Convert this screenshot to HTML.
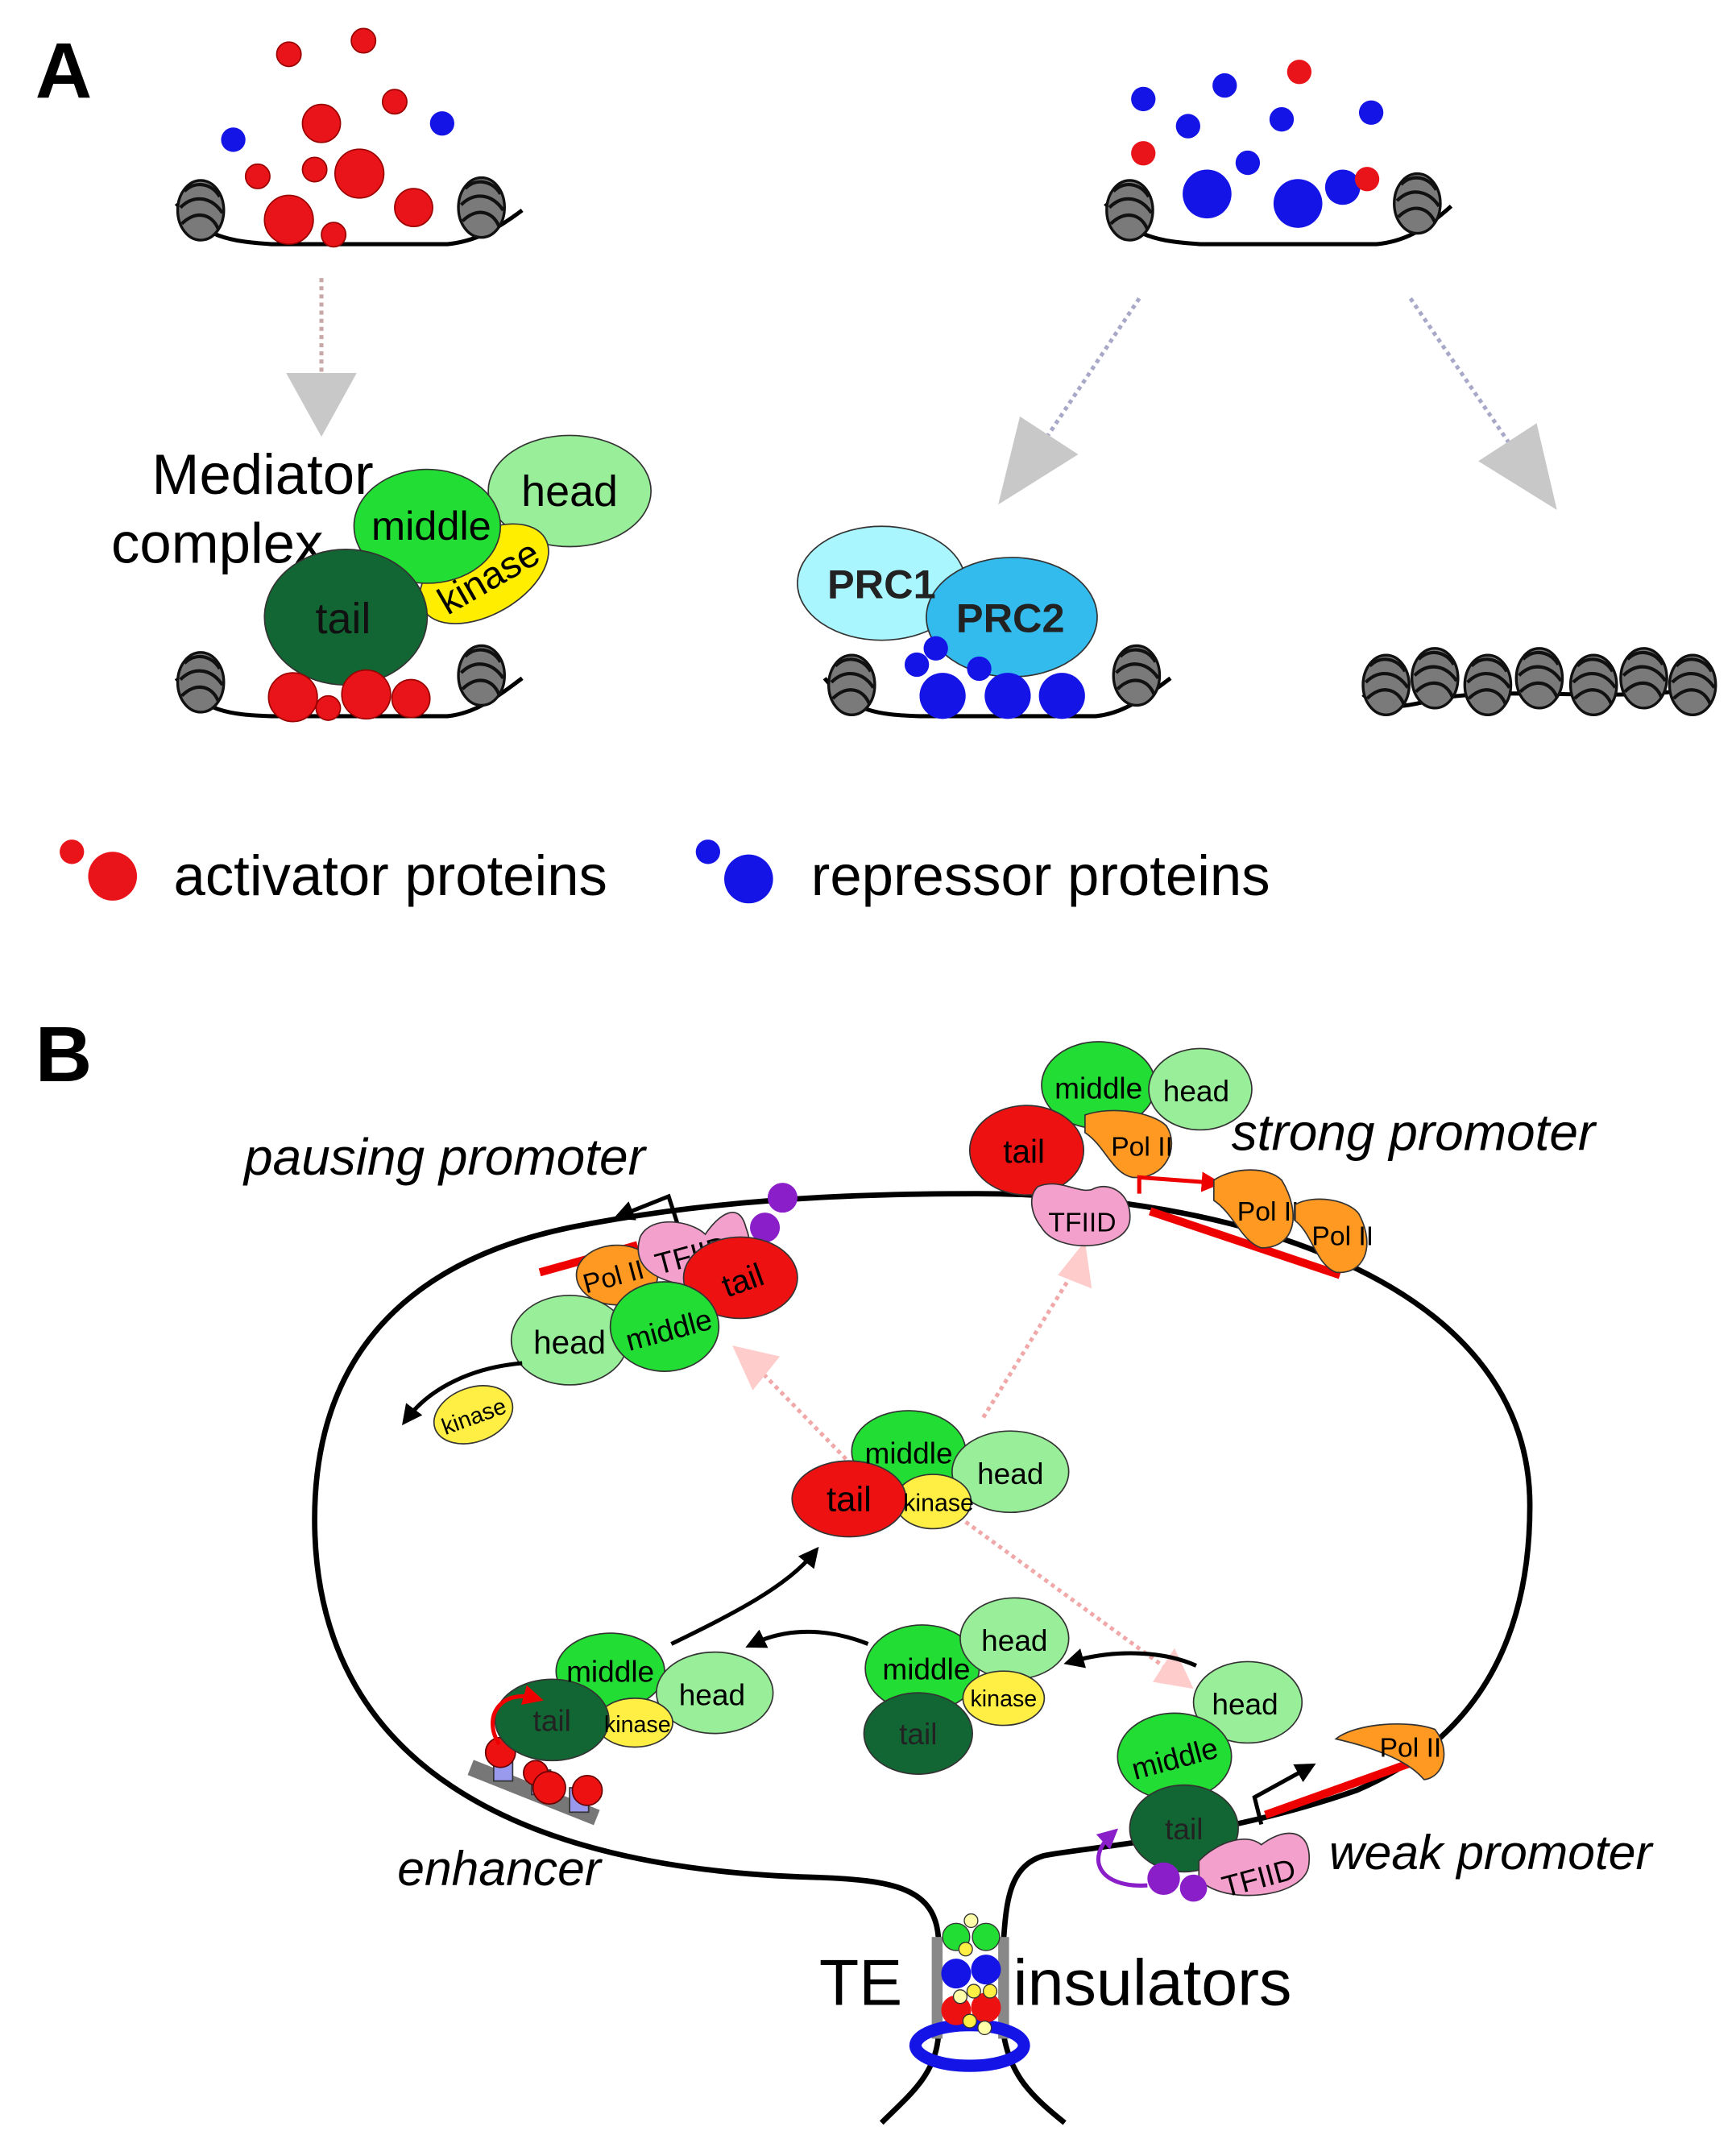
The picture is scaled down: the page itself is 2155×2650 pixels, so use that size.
<!DOCTYPE html>
<html><head><meta charset="utf-8"><style>
html,body{margin:0;padding:0;background:#fff;}
svg{display:block;}
text{font-family:"Liberation Sans",sans-serif;}
</style></head><body>
<svg width="2155" height="2650" viewBox="0 0 1280 1574" xmlns="http://www.w3.org/2000/svg">
<defs>
<g id="nuc">
<ellipse cx="0" cy="0" rx="17" ry="22" fill="#7a7a7a" stroke="#111" stroke-width="2"/>
<path d="M-12,-14 C-4,-22 8,-20 14,-10 M-15,-2 C-5,-12 8,-10 16,2 M-14,10 C-4,0 8,2 13,14" stroke="#111" stroke-width="2.5" fill="none"/>
</g>
<marker id="ah" viewBox="0 0 10 10" refX="6" refY="5" markerWidth="5" markerHeight="5" orient="auto"><path d="M0,0 L10,5 L0,10 z" fill="#000"/></marker>
<marker id="ahr" viewBox="0 0 10 10" refX="6" refY="5" markerWidth="5" markerHeight="5" orient="auto"><path d="M0,0 L10,5 L0,10 z" fill="#e00"/></marker>
<marker id="ahp" viewBox="0 0 10 10" refX="6" refY="5" markerWidth="5" markerHeight="5" orient="auto"><path d="M0,0 L10,5 L0,10 z" fill="#8a1ec8"/></marker>
</defs>

<!-- Panel A -->
<text x="26" y="72" font-size="58" font-weight="bold">A</text>

<!-- top-left site -->
<path d="M130,150 C150,175 170,178 200,180 L330,180 C350,178 365,170 385,155" stroke="#000" stroke-width="3" fill="none"/>
<use href="#nuc" x="148" y="155"/><use href="#nuc" x="355" y="153"/>
<g fill="#e8141a" stroke="#900" stroke-width="1">
<circle cx="213" cy="40" r="9"/><circle cx="268" cy="30" r="9"/><circle cx="291" cy="75" r="9"/>
<circle cx="237" cy="91" r="14"/><circle cx="190" cy="130" r="9"/><circle cx="232" cy="125" r="9"/>
<circle cx="265" cy="128" r="18"/><circle cx="305" cy="153" r="14"/><circle cx="213" cy="162" r="18"/><circle cx="246" cy="173" r="9"/>
</g>
<g fill="#1414e6"><circle cx="172" cy="103" r="9"/><circle cx="326" cy="91" r="9"/></g>
<!-- arrow down -->
<line x1="237" y1="205" x2="237" y2="275" stroke="#c8a8a8" stroke-width="3" stroke-dasharray="3,3"/>
<path d="M211,275 L263,275 L237,322 z" fill="#c8c8c8"/>
<!-- mediator -->
<text x="112" y="364" font-size="42">Mediator</text>
<text x="82" y="415" font-size="42">complex</text>
<ellipse cx="420" cy="362" rx="60" ry="41" fill="#99ee99" stroke="#333"/>
<ellipse cx="357" cy="423" rx="52" ry="30" transform="rotate(-30 357 423)" fill="#ffee00" stroke="#333"/>
<ellipse cx="315" cy="388" rx="54" ry="42" fill="#22dd33" stroke="#333"/>
<ellipse cx="255" cy="455" rx="60" ry="50" fill="#116633" stroke="#333"/>
<text x="420" y="373" font-size="32" text-anchor="middle">head</text>
<text x="318" y="398" font-size="30" text-anchor="middle">middle</text>
<text x="360" y="435" font-size="28" text-anchor="middle" transform="rotate(-30 360 425)">kinase</text>
<text x="253" y="467" font-size="32" text-anchor="middle" fill="#111">tail</text>
<path d="M130,500 C150,525 170,527 200,528 L330,528 C350,526 365,515 385,500" stroke="#000" stroke-width="3" fill="none"/>
<use href="#nuc" x="148" y="503"/><use href="#nuc" x="355" y="498"/>
<g fill="#e8141a" stroke="#900"><circle cx="216" cy="514" r="18"/><circle cx="270" cy="512" r="18"/><circle cx="303" cy="515" r="14"/><circle cx="242" cy="522" r="9"/></g>

<!-- top-right site -->
<path d="M815,150 C835,175 855,178 885,180 L1015,180 C1035,178 1050,170 1070,152" stroke="#000" stroke-width="3" fill="none"/>
<use href="#nuc" x="833" y="155"/><use href="#nuc" x="1045" y="150"/>
<g fill="#1414e6"><circle cx="843" cy="73" r="9"/><circle cx="903" cy="63" r="9"/><circle cx="876" cy="93" r="9"/><circle cx="945" cy="88" r="9"/>
<circle cx="1011" cy="83" r="9"/><circle cx="920" cy="120" r="9"/><circle cx="890" cy="143" r="18"/><circle cx="957" cy="150" r="18"/><circle cx="990" cy="138" r="13"/></g>
<g fill="#e8141a"><circle cx="958" cy="53" r="9"/><circle cx="843" cy="113" r="9"/><circle cx="1008" cy="132" r="9"/></g>
<line x1="840" y1="220" x2="770" y2="325" stroke="#a8a8c8" stroke-width="3" stroke-dasharray="3,3"/>
<path d="M752,307 L795,335 L736,372 z" fill="#c8c8c8"/>
<line x1="1040" y1="220" x2="1115" y2="330" stroke="#a8a8c8" stroke-width="3" stroke-dasharray="3,3"/>
<path d="M1090,340 L1133,312 L1148,376 z" fill="#c8c8c8"/>
<!-- PRC -->
<ellipse cx="650" cy="430" rx="62" ry="42" fill="#aaf6ff" stroke="#333"/>
<ellipse cx="746" cy="455" rx="63" ry="44" fill="#33bbee" stroke="#333"/>
<text x="650" y="441" font-size="30" font-weight="bold" text-anchor="middle" fill="#222">PRC1</text>
<text x="745" y="466" font-size="30" font-weight="bold" text-anchor="middle" fill="#222">PRC2</text>
<path d="M608,500 C628,525 648,527 678,528 L808,528 C828,526 843,515 863,500" stroke="#000" stroke-width="3" fill="none"/>
<use href="#nuc" x="628" y="505"/><use href="#nuc" x="838" y="498"/>
<g fill="#1414e6"><circle cx="676" cy="490" r="9"/><circle cx="690" cy="478" r="9"/><circle cx="722" cy="493" r="9"/>
<circle cx="695" cy="513" r="17"/><circle cx="743" cy="513" r="17"/><circle cx="783" cy="513" r="17"/></g>
<!-- condensed -->
<path d="M1005,512 C1020,526 1040,520 1060,515 C1120,505 1200,520 1265,505" stroke="#000" stroke-width="3" fill="none"/>
<use href="#nuc" x="1022" y="505"/><use href="#nuc" x="1058" y="500"/><use href="#nuc" x="1097" y="505"/><use href="#nuc" x="1135" y="500"/><use href="#nuc" x="1175" y="505"/><use href="#nuc" x="1212" y="500"/><use href="#nuc" x="1248" y="505"/>
<!-- legend -->
<circle cx="53" cy="628" r="9" fill="#e8141a"/><circle cx="83" cy="646" r="18" fill="#e8141a"/>
<text x="128" y="660" font-size="42">activator proteins</text>
<circle cx="522" cy="628" r="9" fill="#1414e6"/><circle cx="552" cy="648" r="18" fill="#1414e6"/>
<text x="598" y="660" font-size="42">repressor proteins</text>

<!-- Panel B -->
<text x="26" y="797" font-size="58" font-weight="bold">B</text>
<path d="M692,1430 C690,1392 660,1386 600,1384 C380,1378 232,1300 232,1120 C232,1000 300,930 420,905 C520,885 620,880 720,880 C900,880 1128,940 1128,1110 C1128,1230 1070,1290 1000,1320 C900,1355 800,1362 770,1368 C745,1375 742,1400 740,1430" stroke="#000" stroke-width="4" fill="none"/>
<path d="M692,1500 C690,1530 670,1545 650,1565 M740,1500 C745,1530 760,1545 785,1565" stroke="#000" stroke-width="4" fill="none"/>
<!-- red gene segments -->
<path d="M398,938 L470,918" stroke="#e00" stroke-width="6"/>
<path d="M848,893 L988,940" stroke="#e00" stroke-width="6"/>
<path d="M933,1338 L1045,1298" stroke="#e00" stroke-width="6"/>

<!-- dotted pink arrows -->
<g stroke="#f0a8a8" stroke-width="3" stroke-dasharray="3,3" fill="none">
<line x1="628" y1="1080" x2="560" y2="1010"/>
<line x1="725" y1="1045" x2="790" y2="940"/>
<line x1="712" y1="1122" x2="860" y2="1230"/>
</g>
<path d="M540,992 L575,1000 L555,1025 z" fill="#fcc"/>
<path d="M800,915 L805,950 L780,940 z" fill="#fcc"/>
<path d="M880,1245 L850,1240 L866,1215 z" fill="#fcc"/>

<!-- pausing promoter -->
<text x="180" y="866" font-size="38" font-style="italic">pausing promoter</text>
<path d="M503,913 L493,882 L458,896" stroke="#000" stroke-width="3" fill="none" marker-end="url(#ah)"/>
<ellipse cx="455" cy="940" rx="30" ry="22" fill="#ff9922" stroke="#333"/>
<text x="452" y="948" font-size="20" text-anchor="middle" transform="rotate(-15 452 940)">Pol II</text>
<path d="M472,912 C480,895 510,900 520,910 C530,895 545,885 550,905 C560,930 540,950 510,948 C485,945 465,935 472,912 z" fill="#f4a0cc" stroke="#333"/>
<text x="510" y="933" font-size="22" text-anchor="middle" transform="rotate(-15 510 925)">TFIID</text>
<circle cx="564" cy="905" r="11" fill="#8a1ec8"/><circle cx="577" cy="883" r="11" fill="#8a1ec8"/>
<ellipse cx="546" cy="942" rx="42" ry="30" fill="#ee1111" stroke="#333"/>
<text x="548" y="952" font-size="24" text-anchor="middle" transform="rotate(-20 548 945)">tail</text>
<ellipse cx="420" cy="988" rx="43" ry="33" fill="#99ee99" stroke="#333"/>
<ellipse cx="490" cy="978" rx="40" ry="33" fill="#22dd33" stroke="#333"/>
<text x="420" y="998" font-size="24" text-anchor="middle">head</text>
<text x="493" y="988" font-size="22" text-anchor="middle" transform="rotate(-15 493 980)">middle</text>
<ellipse cx="349" cy="1043" rx="30" ry="20" transform="rotate(-20 349 1043)" fill="#ffee44" stroke="#333"/>
<text x="349" y="1050" font-size="17" text-anchor="middle" transform="rotate(-20 349 1043)">kinase</text>
<path d="M385,1005 C350,1008 318,1022 300,1046" stroke="#000" stroke-width="3" fill="none" marker-end="url(#ah)"/>

<!-- strong promoter -->
<text x="908" y="848" font-size="38" font-style="italic">strong promoter</text>
<ellipse cx="810" cy="800" rx="42" ry="32" fill="#22dd33" stroke="#333"/>
<ellipse cx="885" cy="803" rx="38" ry="30" fill="#99ee99" stroke="#333"/>
<text x="810" y="810" font-size="22" text-anchor="middle">middle</text>
<text x="882" y="812" font-size="22" text-anchor="middle">head</text>
<ellipse cx="757" cy="848" rx="42" ry="33" fill="#ee1111" stroke="#333"/>
<text x="755" y="857" font-size="24" text-anchor="middle">tail</text>
<path d="M800,822 C820,815 850,820 860,830 C870,845 860,870 835,868 C820,865 815,845 800,835 z" fill="#ff9922" stroke="#333"/>
<text x="842" y="852" font-size="20" text-anchor="middle">Pol II</text>
<path d="M765,875 C780,868 795,880 805,877 C818,870 835,880 833,900 C830,922 780,925 768,905 C760,895 758,882 765,875 z" fill="#f4a0cc" stroke="#333"/>
<text x="798" y="908" font-size="20" text-anchor="middle">TFIID</text>
<path d="M840,880 L840,868 L895,872" stroke="#e00" stroke-width="3" fill="none" marker-end="url(#ahr)"/>
<path d="M895,870 C910,860 935,860 945,870 C960,895 955,920 930,920 C915,915 910,895 895,885 z" fill="#ff9922" stroke="#333"/>
<text x="935" y="900" font-size="20" text-anchor="middle">Pol II</text>
<path d="M955,888 C970,880 995,885 1002,895 C1015,920 1005,940 985,938 C970,932 968,910 955,900 z" fill="#ff9922" stroke="#333"/>
<text x="990" y="918" font-size="20" text-anchor="middle">Pol II</text>

<!-- center free mediator -->
<ellipse cx="670" cy="1070" rx="42" ry="30" fill="#22dd33" stroke="#333"/>
<ellipse cx="745" cy="1085" rx="43" ry="30" fill="#99ee99" stroke="#333"/>
<ellipse cx="688" cy="1107" rx="28" ry="20" fill="#ffee44" stroke="#333"/>
<ellipse cx="626" cy="1105" rx="42" ry="28" fill="#ee1111" stroke="#333"/>
<text x="670" y="1079" font-size="22" text-anchor="middle">middle</text>
<text x="745" y="1094" font-size="22" text-anchor="middle">head</text>
<text x="692" y="1114" font-size="18" text-anchor="middle">kinase</text>
<text x="626" y="1114" font-size="26" text-anchor="middle">tail</text>

<!-- lower mediators -->
<ellipse cx="680" cy="1230" rx="42" ry="32" fill="#22dd33" stroke="#333"/>
<ellipse cx="748" cy="1208" rx="40" ry="30" fill="#99ee99" stroke="#333"/>
<ellipse cx="740" cy="1252" rx="30" ry="20" fill="#ffee44" stroke="#333"/>
<ellipse cx="677" cy="1278" rx="40" ry="30" fill="#116633" stroke="#333"/>
<text x="683" y="1238" font-size="22" text-anchor="middle">middle</text>
<text x="748" y="1217" font-size="22" text-anchor="middle">head</text>
<text x="740" y="1258" font-size="17" text-anchor="middle">kinase</text>
<text x="677" y="1286" font-size="22" text-anchor="middle" fill="#222">tail</text>

<path d="M882,1228 C860,1218 825,1215 790,1225" stroke="#000" stroke-width="3" fill="none" marker-end="url(#ah)"/>
<path d="M640,1212 C610,1200 580,1200 555,1212" stroke="#000" stroke-width="3" fill="none" marker-end="url(#ah)"/>
<path d="M495,1212 C540,1190 580,1170 600,1145" stroke="#000" stroke-width="3" fill="none" marker-end="url(#ah)"/>

<!-- enhancer -->
<path d="M347,1303 L440,1340" stroke="#777" stroke-width="12"/>
<g fill="#9999ee" stroke="#333"><rect x="364" y="1295" width="14" height="18"/><rect x="392" y="1305" width="14" height="18"/><rect x="420" y="1318" width="14" height="18"/></g>
<g fill="#ee1111" stroke="#600"><circle cx="369" cy="1292" r="11"/><circle cx="395" cy="1307" r="9"/><circle cx="405" cy="1318" r="12"/><circle cx="433" cy="1320" r="11"/></g>
<ellipse cx="450" cy="1232" rx="40" ry="28" fill="#22dd33" stroke="#333"/>
<ellipse cx="527" cy="1248" rx="43" ry="30" fill="#99ee99" stroke="#333"/>
<ellipse cx="468" cy="1270" rx="28" ry="18" fill="#ffee44" stroke="#333"/>
<ellipse cx="407" cy="1268" rx="42" ry="30" fill="#116633" stroke="#333"/>
<text x="450" y="1240" font-size="22" text-anchor="middle">middle</text>
<text x="525" y="1257" font-size="22" text-anchor="middle">head</text>
<text x="470" y="1277" font-size="17" text-anchor="middle">kinase</text>
<text x="407" y="1276" font-size="22" text-anchor="middle" fill="#222">tail</text>
<path d="M368,1286 C355,1265 370,1245 395,1252" stroke="#e00" stroke-width="3" fill="none" marker-end="url(#ahr)"/>
<text x="293" y="1390" font-size="36" font-style="italic">enhancer</text>

<!-- weak promoter -->
<ellipse cx="920" cy="1255" rx="40" ry="30" fill="#99ee99" stroke="#333"/>
<ellipse cx="866" cy="1295" rx="42" ry="32" fill="#22dd33" stroke="#333"/>
<ellipse cx="873" cy="1348" rx="40" ry="32" fill="#116633" stroke="#333"/>
<text x="918" y="1264" font-size="22" text-anchor="middle">head</text>
<text x="866" y="1304" font-size="22" text-anchor="middle" transform="rotate(-15 866 1296)">middle</text>
<text x="873" y="1356" font-size="22" text-anchor="middle" fill="#222">tail</text>
<path d="M884,1372 C895,1360 918,1350 930,1360 C950,1345 968,1350 965,1375 C962,1400 900,1405 884,1385 z" fill="#f4a0cc" stroke="#333"/>
<text x="928" y="1392" font-size="22" text-anchor="middle" transform="rotate(-15 928 1384)">TFIID</text>
<circle cx="858" cy="1385" r="12" fill="#8a1ec8"/><circle cx="880" cy="1392" r="10" fill="#8a1ec8"/>
<path d="M846,1390 C810,1392 800,1370 820,1352" stroke="#8a1ec8" stroke-width="3" fill="none" marker-end="url(#ahp)"/>
<path d="M930,1345 L925,1325 L965,1303" stroke="#000" stroke-width="3" fill="none" marker-end="url(#ah)"/>
<path d="M985,1282 C1000,1270 1040,1268 1058,1275 C1070,1290 1065,1310 1050,1312 C1040,1300 1020,1290 985,1282 z" fill="#ff9922" stroke="#333"/>
<text x="1040" y="1295" font-size="20" text-anchor="middle">Pol II</text>
<text x="980" y="1378" font-size="36" font-style="italic">weak promoter</text>

<!-- TE insulators -->
<rect x="687" y="1428" width="8" height="75" fill="#888"/>
<rect x="736" y="1428" width="8" height="75" fill="#888"/>
<ellipse cx="715" cy="1508" rx="40" ry="15" fill="none" stroke="#1414e6" stroke-width="9"/>
<g stroke="#333" stroke-width="0.8">
<circle cx="705" cy="1428" r="10" fill="#22dd33"/><circle cx="727" cy="1428" r="10" fill="#22dd33"/>
<circle cx="705" cy="1455" r="11" fill="#1414e6" stroke="none"/><circle cx="727" cy="1452" r="11" fill="#1414e6" stroke="none"/>
<circle cx="705" cy="1482" r="11" fill="#ee1111" stroke="none"/><circle cx="727" cy="1480" r="11" fill="#ee1111" stroke="none"/>
<circle cx="716" cy="1416" r="5" fill="#ffffaa"/><circle cx="712" cy="1437" r="5" fill="#ffee44"/><circle cx="718" cy="1468" r="5" fill="#ffee44"/>
<circle cx="730" cy="1468" r="5" fill="#ffee44"/><circle cx="708" cy="1472" r="5" fill="#ffffaa"/><circle cx="715" cy="1490" r="5" fill="#ffee44"/><circle cx="726" cy="1495" r="5" fill="#ffffaa"/>
</g>
<text x="604" y="1478" font-size="48">TE</text>
<text x="747" y="1478" font-size="48">insulators</text>
</svg>
</body></html>
